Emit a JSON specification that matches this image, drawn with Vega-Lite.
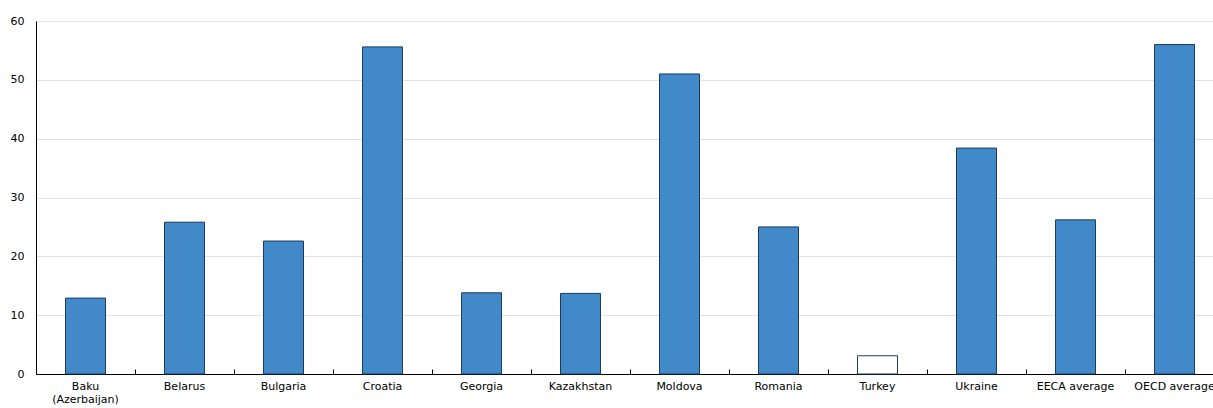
{
  "$schema": "https://vega.github.io/schema/vega-lite/v6.json",
  "width": 1188,
  "height": 353,
  "autosize": {"type": "none"},
  "padding": {"left": 36, "top": 21, "right": 0, "bottom": 34},
  "background": "white",
  "config": {
    "view": {"stroke": null},
    "font": "DejaVu Sans",
    "axis": {"labelFont": "DejaVu Sans", "labelFontSize": 11, "labelColor": "#000000"}
  },
  "data": {
    "values": [
      {"country": "Baku (Azerbaijan)", "value": 12.9},
      {"country": "Belarus", "value": 25.8},
      {"country": "Bulgaria", "value": 22.6},
      {"country": "Croatia", "value": 55.6},
      {"country": "Georgia", "value": 13.8},
      {"country": "Kazakhstan", "value": 13.7},
      {"country": "Moldova", "value": 51.0},
      {"country": "Romania", "value": 25.0},
      {"country": "Turkey", "value": 3.1},
      {"country": "Ukraine", "value": 38.4},
      {"country": "EECA average", "value": 26.2},
      {"country": "OECD average", "value": 56.0}
    ]
  },
  "mark": {"type": "bar", "width": 40, "stroke": "#1d3b5a", "strokeWidth": 1},
  "encoding": {
    "x": {
      "field": "country",
      "type": "nominal",
      "sort": null,
      "scale": {"paddingInner": 0, "paddingOuter": 0},
      "axis": {
        "title": null,
        "labelAngle": 0,
        "bandPosition": 0,
        "tickSize": -5,
        "tickColor": "#000000",
        "domainColor": "#000000",
        "labelPadding": 11,
        "labelLineHeight": 13,
        "labelExpr": "datum.label == 'Baku (Azerbaijan)' ? ['Baku', '(Azerbaijan)'] : datum.label"
      }
    },
    "y": {
      "field": "value",
      "type": "quantitative",
      "scale": {"domain": [0, 60], "nice": false},
      "axis": {
        "title": null,
        "values": [0, 10, 20, 30, 40, 50, 60],
        "ticks": false,
        "labelPadding": 12,
        "domainColor": "#000000",
        "gridColor": "#e3e3e3",
        "gridWidth": 1
      }
    },
    "fill": {
      "condition": {"test": "datum.country === 'Turkey'", "value": "#ffffff"},
      "value": "#4189c9"
    }
  }
}
